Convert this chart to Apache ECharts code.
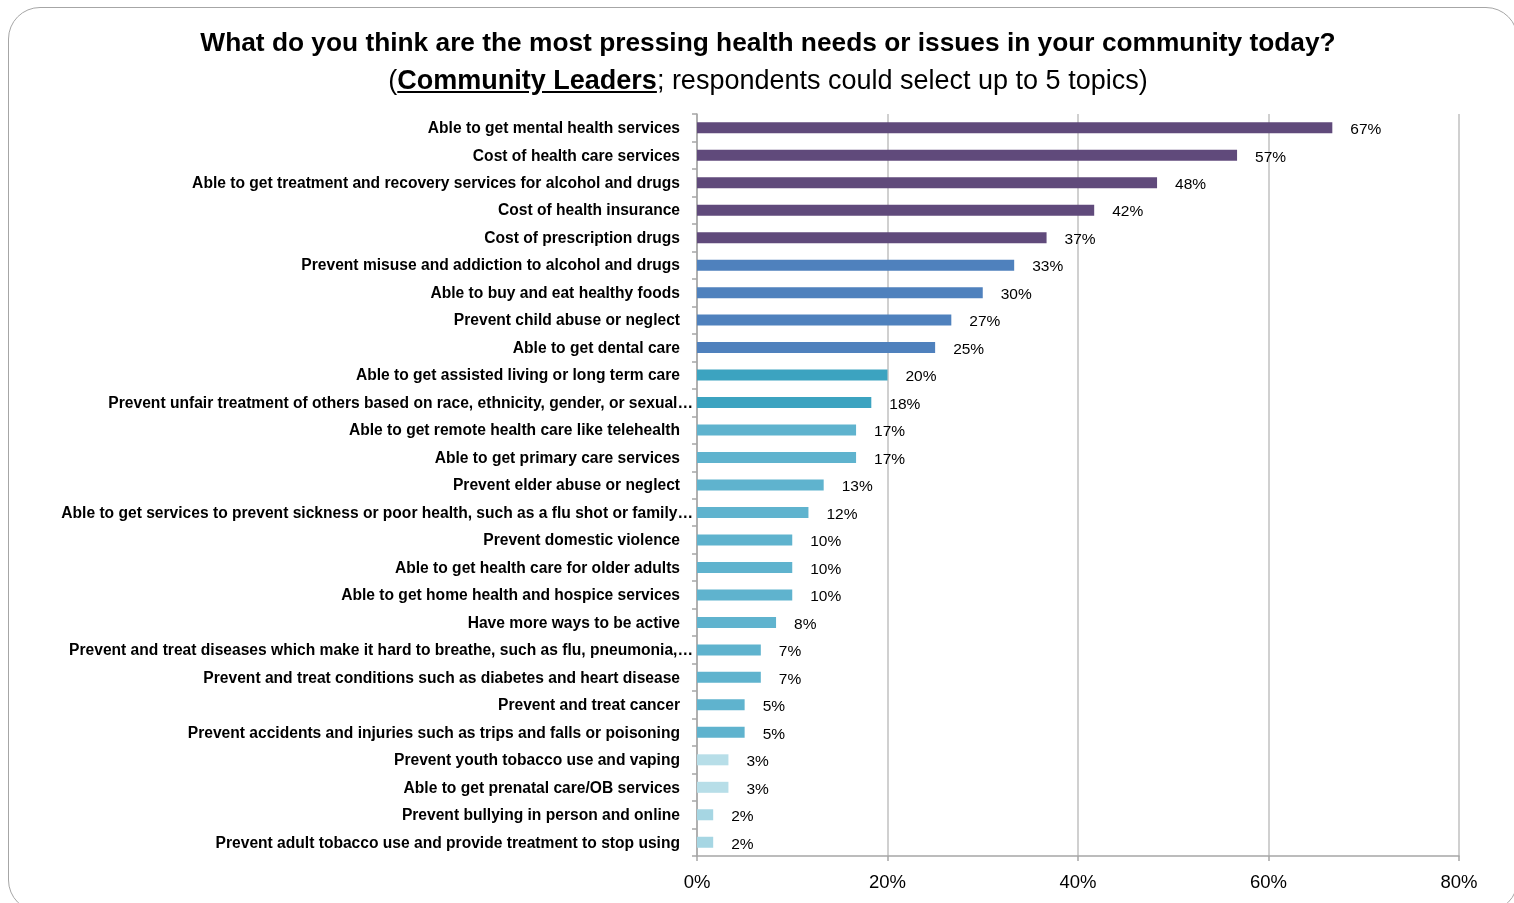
<!DOCTYPE html>
<html>
<head>
<meta charset="utf-8">
<script src="https://cdn.jsdelivr.net/npm/echarts@6/dist/echarts.min.js"></script>
<style>
  html, body { margin: 0; padding: 0; background: #fff; overflow: hidden; }
  #frame { position: absolute; left: 8px; top: 7px; width: 1510px; height: 905px; border: 1.5px solid #a6a6a6; border-radius: 32px; box-sizing: border-box; }
  #titles { position: absolute; left: 0; top: 24px; width: 1536px; text-align: center; font-family: "Liberation Sans", sans-serif; color: #000; }
  #t1 { font-size: 26.3px; font-weight: bold; line-height: 36px; }
  #t2 { font-size: 27px; line-height: 36px; margin-top: 2px; }
  #t2 b { text-decoration: underline; }
  #chart { position: absolute; left: 0; top: 0; width: 1514px; height: 903px; }
</style>
</head>
<body>
<div id="frame"></div>
<div id="chart"></div>
<div id="titles">
  <div id="t1">What do you think are the most pressing health needs or issues in your community today?</div>
  <div id="t2">(<b>Community Leaders</b>; respondents could select up to 5 topics)</div>
</div>
<script>
const categories = [
  "Able to get mental health services",
  "Cost of health care services",
  "Able to get treatment and recovery services for alcohol and drugs",
  "Cost of health insurance",
  "Cost of prescription drugs",
  "Prevent misuse and addiction to alcohol and drugs",
  "Able to buy and eat healthy foods",
  "Prevent child abuse or neglect",
  "Able to get dental care",
  "Able to get assisted living or long term care",
  "Prevent unfair treatment of others based on race, ethnicity, gender, or sexual…",
  "Able to get remote health care like telehealth",
  "Able to get primary care services",
  "Prevent elder abuse or neglect",
  "Able to get services to prevent sickness or poor health, such as a flu shot or family…",
  "Prevent domestic violence",
  "Able to get health care for older adults",
  "Able to get home health and hospice services",
  "Have more ways to be active",
  "Prevent and treat diseases which make it hard to breathe, such as flu, pneumonia,…",
  "Prevent and treat conditions such as diabetes and heart disease",
  "Prevent and treat cancer",
  "Prevent accidents and injuries such as trips and falls or poisoning",
  "Prevent youth tobacco use and vaping",
  "Able to get prenatal care/OB services",
  "Prevent bullying in person and online",
  "Prevent adult tobacco use and provide treatment to stop using"
];
const values = [66.7, 56.7, 48.3, 41.7, 36.7, 33.3, 30.0, 26.7, 25.0, 20.0, 18.3, 16.7, 16.7, 13.3, 11.7, 10.0, 10.0, 10.0, 8.3, 6.7, 6.7, 5.0, 5.0, 3.3, 3.3, 1.7, 1.7];
const xTicks = [0, 20, 40, 60, 80];
const barColors = [
  "#604A7B", "#604A7B", "#604A7B", "#604A7B", "#604A7B",
  "#4F81BD", "#4F81BD", "#4F81BD", "#4F81BD",
  "#3CA3C0", "#3CA3C0",
  "#5FB3CE", "#5FB3CE", "#5FB3CE", "#5FB3CE", "#5FB3CE", "#5FB3CE", "#5FB3CE", "#5FB3CE", "#5FB3CE", "#5FB3CE", "#5FB3CE", "#5FB3CE",
  "#B7DEE8", "#B7DEE8",
  "#A6D6E3", "#A6D6E3"
];

const FONT = '"Liberation Sans", sans-serif';
const LBL = 15.6;
const chart = echarts.init(document.getElementById('chart'), null, { renderer: 'canvas' });
chart.setOption({
  animation: false,
  backgroundColor: 'transparent',
  grid: { left: 697, right: 55, top: 114, bottom: 47, containLabel: false },
  xAxis: {
    type: 'value', min: xTicks[0], max: xTicks[xTicks.length - 1], interval: 20,
    axisLine: { show: true, lineStyle: { color: '#a6a6a6', width: 1.5 } },
    axisTick: { show: true, length: 5, lineStyle: { color: '#a6a6a6', width: 1.5 } },
    splitLine: { show: true, lineStyle: { color: '#c0c0c0', width: 1.5 } },
    axisLabel: { formatter: v => v + '%', color: '#000', fontSize: 18.5, fontFamily: FONT, margin: 17 }
  },
  yAxis: {
    type: 'category', data: categories, inverse: true,
    axisLine: { show: true, lineStyle: { color: '#a6a6a6', width: 1.5 } },
    axisTick: { show: true, length: 5, inside: false, lineStyle: { color: '#a6a6a6', width: 1.5 } },
    axisLabel: {
      color: '#000', fontSize: LBL, fontWeight: 'bold', fontFamily: FONT, margin: 4,
      formatter: v => v.endsWith('…') ? '{t|' + v + '}' : '{n|' + v + '}',
      rich: {
        t: { color: '#000', fontSize: LBL, fontWeight: 'bold', fontFamily: FONT, padding: [2, 0, 0, 0] },
        n: { color: '#000', fontSize: LBL, fontWeight: 'bold', fontFamily: FONT, padding: [2, 13, 0, 0] }
      }
    }
  },
  series: [{
    type: 'bar',
    data: values.map((v, i) => ({ value: v, itemStyle: { color: barColors[i] } })),
    barWidth: 11,
    label: {
      show: true, position: 'right', distance: 18, offset: [0, 2],
      formatter: p => Math.round(p.value) + '%',
      color: '#000', fontSize: 15.5, fontFamily: FONT
    }
  }]
});
</script>
</body>
</html>
